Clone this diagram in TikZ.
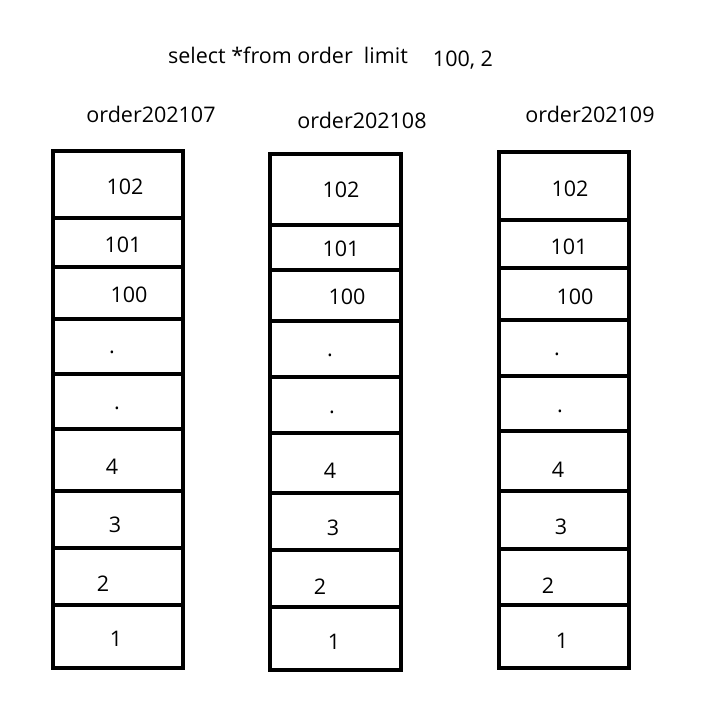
\documentclass[tikz,border=0pt]{standalone}
\usepackage{fontspec}
\setmainfont{Open Sans}
\begin{document}
\begin{tikzpicture}[x=1pt,y=-1pt,
  cell/.style={line width=3.4pt},
  lbl/.style={font=\fontsize{21.5}{25}\selectfont}]
  \useasboundingbox (0,0) rectangle (715,715);
  \node[lbl] (query) at (288,55) {select *from order\ \ limit};
  \node[lbl] (offset) at (463,60) {100, 2};

  % column 2021-07
  \node[lbl] (title7) at (151,114) {order202107};
  \draw[cell] (53,151) rectangle (183,668);
  \foreach \y in {218,267,319,374,429,491,548,605}
    \draw[cell] (53,\y) -- (183,\y);
  \foreach \t/\x/\y in {102/125/187,101/123/245,100/129/295,./112/352,./117/408,4/112/467,3/115/525,2/103/584,1/116/639}
    \node[lbl] at (\x,\y) {\t};

  % column 2021-08
  \node[lbl] (title8) at (362,120) {order202108};
  \draw[cell] (270,154) rectangle (401,670);
  \foreach \y in {225,270,321,377,433,493,550,607}
    \draw[cell] (270,\y) -- (401,\y);
  \foreach \t/\x/\y in {102/341/190,101/341/249,100/347/297,./330/355,./332/412,4/330/471,3/333/528,2/320/587,1/334/642}
    \node[lbl] at (\x,\y) {\t};

  % column 2021-09
  \node[lbl] (title9) at (590,114) {order202109};
  \draw[cell] (499,152) rectangle (629,668);
  \foreach \y in {220,268,320,376,431,491,549,605}
    \draw[cell] (499,\y) -- (629,\y);
  \foreach \t/\x/\y in {102/570/189,101/569/247,100/575/297,./557/354,./560/411,4/558/470,3/561/527,2/548/586,1/562/641}
    \node[lbl] at (\x,\y) {\t};
\end{tikzpicture}
\end{document}
